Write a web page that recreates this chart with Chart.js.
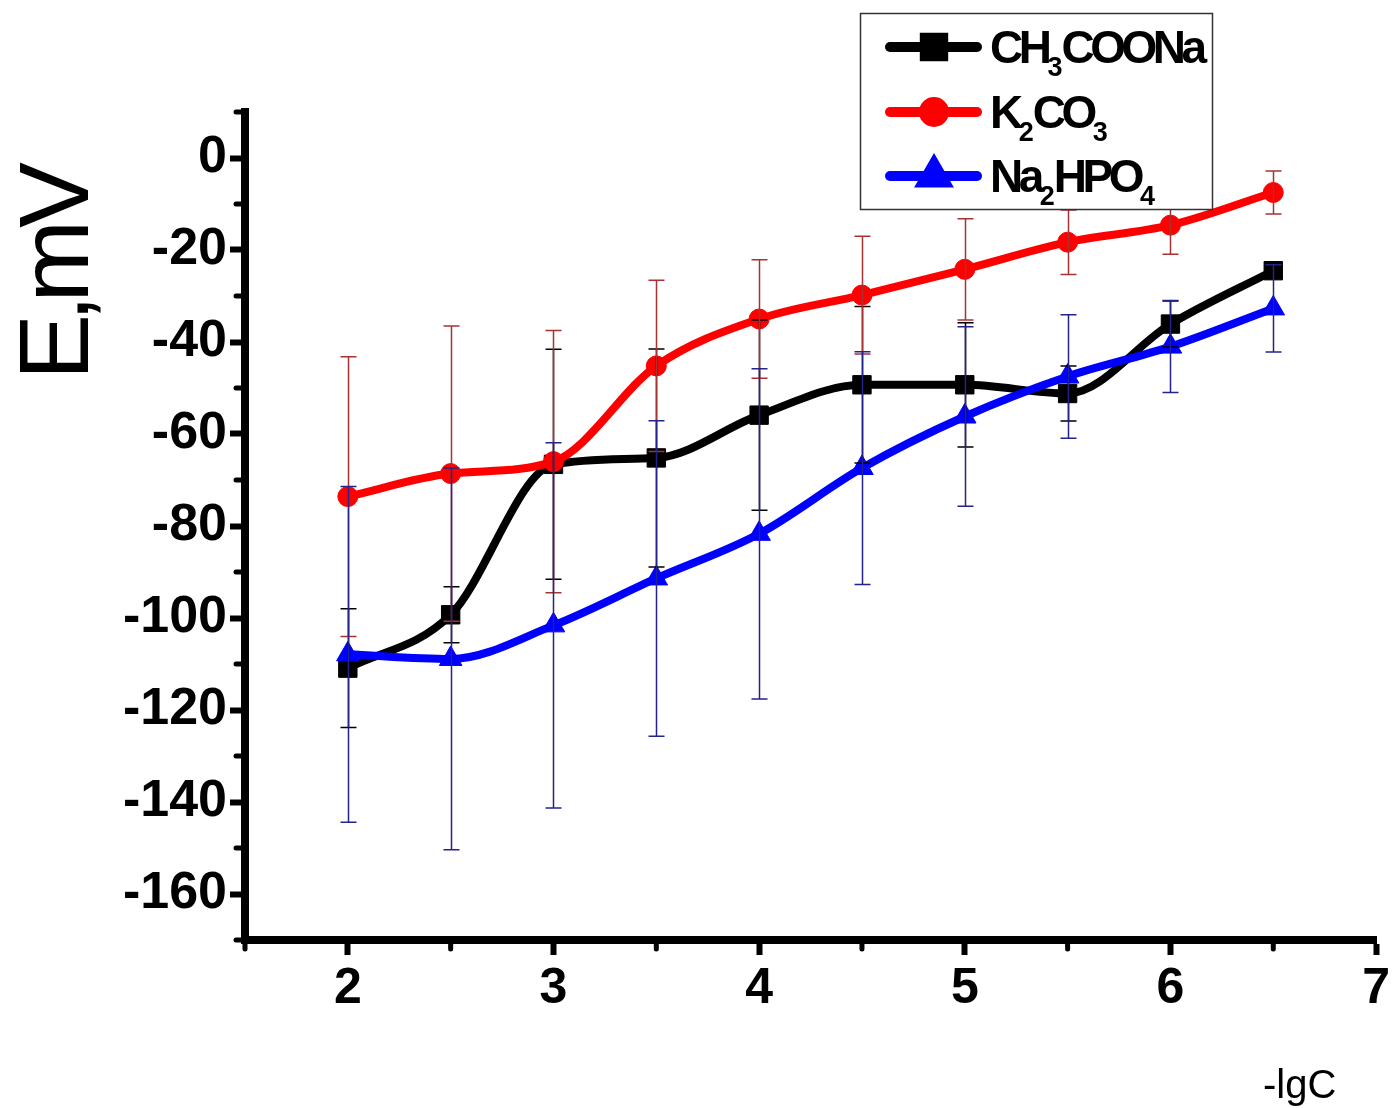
<!DOCTYPE html>
<html lang="ru">
<head>
<meta charset="UTF-8">
<title>E, mV vs -lgC</title>
<script src="https://cdn.jsdelivr.net/npm/chart.js"></script>
<style>
  html, body { margin: 0; padding: 0; background: #fff; }
  .wrap { width: 1394px; height: 1108px; }
</style>
</head>
<body>
<div class="wrap"><canvas id="chart"></canvas></div>
<script>
// -lgC values (x axis)
const lgC = [2, 2.5, 3, 3.5, 4, 4.5, 5, 5.5, 6, 6.5];

// E, mV for each salt and their error bars
const acetate    = [-110.9, -99.3, -66.6, -65.2, -55.9, -49.3, -49.3, -51.2, -36.1, -24.5];
const acetateErr = [12.9, 6.1, 25, 23.7, 20.7, 17, 13.5, 6, 5, 1.5];

const carbonate    = [-73.6, -68.6, -66.0, -45.2, -35.0, -29.8, -24.2, -18.3, -14.6, -7.5];
const carbonateErr = [30.4, 32.1, 28.5, 18.6, 12.9, 12.8, 11, 7, 6.3, 4.7];

const phosphate    = [-107.9, -108.9, -101.6, -91.4, -81.7, -67.4, -56.2, -47.5, -41.0, -32.7];
const phosphateErr = [36.5, 41.5, 39.7, 34.3, 35.9, 25.3, 19.5, 13.4, 10, 9.5];

const series = [
    { name: [['CH', 0], ['3', 1], ['COONa', 0]], values: acetate,   errors: acetateErr,   color: '#000000', errColor: '#000000', marker: 'rect',     radius: 13, order: 2 },
    { name: [['K', 0], ['2', 1], ['CO', 0], ['3', 1]], values: carbonate, errors: carbonateErr, color: '#ff0000', errColor: '#a83232', marker: 'circle', radius: 10, order: 1 },
    { name: [['Na', 0], ['2', 1], ['HPO', 0], ['4', 1]], values: phosphate, errors: phosphateErr, color: '#0000ff', errColor: '#23238c', marker: 'triangle', radius: 13, order: 0 }
];

const FONT = '"Liberation Sans", Arial, sans-serif';

// error bars on top of the curves
const errorBars = {
    id: 'errorBars',
    afterDatasetsDraw(chart) {
        const ctx = chart.ctx;
        const xs = chart.scales.x, ys = chart.scales.y;
        ctx.save();
        ctx.lineWidth = 1.5;
        series.forEach(s => {
            ctx.strokeStyle = s.errColor;
            s.values.forEach((v, i) => {
                const px = Math.round(xs.getPixelForValue(lgC[i])) + 0.5;
                const top = ys.getPixelForValue(v + s.errors[i]);
                const bot = ys.getPixelForValue(v - s.errors[i]);
                ctx.beginPath();
                ctx.moveTo(px, top); ctx.lineTo(px, bot);
                ctx.moveTo(px - 8, top); ctx.lineTo(px + 8, top);
                ctx.moveTo(px - 8, bot); ctx.lineTo(px + 8, bot);
                ctx.stroke();
            });
        });
        ctx.restore();
    }
};

// shorter minor ticks, axis titles and the legend with subscripts
const decorations = {
    id: 'decorations',
    afterDraw(chart) {
        const ctx = chart.ctx;
        const area = chart.chartArea;
        const xs = chart.scales.x, ys = chart.scales.y;
        ctx.save();

        // minor ticks
        ctx.strokeStyle = '#000';
        ctx.lineWidth = 5;
        ctx.lineCap = 'round';
        ys.ticks.forEach(t => {
            if (t.value % 20 === 0) return;
            const py = ys.getPixelForValue(t.value);
            ctx.beginPath(); ctx.moveTo(area.left - 9, py); ctx.lineTo(area.left, py); ctx.stroke();
        });
        xs.ticks.forEach(t => {
            if (Number.isInteger(t.value)) return;
            const px = xs.getPixelForValue(t.value);
            ctx.beginPath(); ctx.moveTo(px, area.bottom); ctx.lineTo(px, area.bottom + 9); ctx.stroke();
        });

        // y title
        ctx.fillStyle = '#000';
        ctx.save();
        ctx.translate(88, 275);
        ctx.rotate(-Math.PI / 2);
        ctx.font = '99px ' + FONT;
        ctx.letterSpacing = '-8px';
        ctx.textAlign = 'center';
        ctx.textBaseline = 'alphabetic';
        ctx.fillText('E,mV', 0, 0);
        ctx.restore();

        // x title
        ctx.font = '40px ' + FONT;
        ctx.textAlign = 'left';
        ctx.textBaseline = 'alphabetic';
        ctx.fillText('-lgC', 1263, 1098);

        // legend
        ctx.fillStyle = '#fff';
        ctx.fillRect(860, 13, 352, 196);
        ctx.strokeStyle = '#333';
        ctx.lineWidth = 1.5;
        ctx.strokeRect(860.5, 13.5, 352, 196);

        const rows = [47, 112, 176];
        series.forEach((s, k) => {
            const ly = rows[k];
            ctx.strokeStyle = s.color;
            ctx.fillStyle = s.color;
            ctx.lineWidth = 10;
            ctx.lineCap = 'round';
            ctx.beginPath(); ctx.moveTo(890, ly); ctx.lineTo(977, ly); ctx.stroke();
            Chart.helpers.drawPoint(ctx, { pointStyle: s.marker, radius: s.radius, borderWidth: 1 }, 934, ly);

            let tx = 990;
            const base = ly + 16;
            ctx.fillStyle = '#000';
            ctx.textAlign = 'left';
            s.name.forEach(([txt, sub]) => {
                ctx.font = (sub ? 'bold 27px ' : 'bold 46px ') + FONT;
                ctx.letterSpacing = sub ? '-1px' : '-4.5px';
                ctx.fillText(txt, tx, sub ? base + 13 : base);
                tx += ctx.measureText(txt).width;
            });
        });
        ctx.restore();
    }
};

new Chart(document.getElementById('chart'), {
    type: 'line',
    data: {
        datasets: series.map(s => ({
            data: lgC.map((x, i) => ({ x: x, y: s.values[i] })),
            borderColor: s.color,
            backgroundColor: s.color,
            borderWidth: 8,
            cubicInterpolationMode: 'monotone',
            pointStyle: s.marker,
            pointRadius: s.radius,
            pointBorderWidth: 1,
            order: s.order
        }))
    },
    options: {
        responsive: true,
        maintainAspectRatio: false,
        animation: false,
        layout: { padding: { top: 112, right: 15, left: 0, bottom: 0 } },
        plugins: { legend: { display: false }, tooltip: { enabled: false } },
        scales: {
            x: {
                type: 'linear',
                min: 1.5, max: 7,
                afterFit(scale) { scale.height = 168; },
                border: { display: true, color: '#000', width: 8 },
                grid: {
                    drawOnChartArea: false,
                    tickLength: 15,
                    tickWidth: 6,
                    tickColor: c => Number.isInteger(c.tick.value) ? '#000' : 'rgba(0,0,0,0)'
                },
                ticks: {
                    stepSize: 0.5,
                    padding: 4,
                    color: '#000',
                    font: { family: FONT, size: 50, weight: 'bold' },
                    maxRotation: 0,
                    autoSkip: false,
                    callback: v => Number.isInteger(v) ? String(v) : ''
                }
            },
            y: {
                min: -170, max: 10,
                afterFit(scale) { scale.width = 245; },
                border: { display: true, color: '#000', width: 8 },
                grid: {
                    drawOnChartArea: false,
                    tickLength: 15,
                    tickWidth: 6,
                    tickColor: c => c.tick.value % 20 === 0 ? '#000' : 'rgba(0,0,0,0)'
                },
                ticks: {
                    stepSize: 10,
                    padding: 3,
                    color: '#000',
                    autoSkip: false,
                    font: { family: FONT, size: 52, weight: 'bold' },
                    callback: v => v % 20 === 0 ? String(v) : ''
                }
            }
        }
    },
    plugins: [errorBars, decorations]
});
</script>
</body>
</html>
